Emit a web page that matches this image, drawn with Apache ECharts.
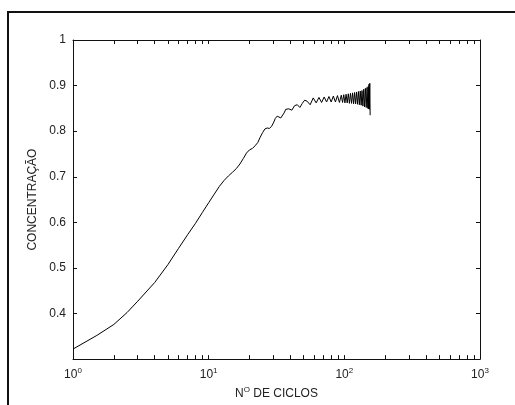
<!DOCTYPE html>
<html>
<head>
<meta charset="utf-8">
<script src="https://cdn.jsdelivr.net/npm/echarts@6/dist/echarts.min.js"></script>
<style>
  html, body { margin: 0; padding: 0; background: #fff; }
  #frame { position: absolute; left: 7px; top: 11px; width: 508px; height: 394px;
           border-left: 2px solid #111; border-top: 2px solid #111; box-sizing: border-box; }
  #chart { position: absolute; left: 0; top: 0; width: 515px; height: 405px; }
</style>
</head>
<body>
<div id="frame"></div>
<div id="chart"></div>
<script>
// número de ciclos e concentração
const cycles = [1, 1.5, 2, 2.5, 3, 4, 5, 6, 7, 8, 9, 10, 11, 12, 13, 14, 15, 16, 17, 18, 19, 20,
  21, 22, 23, 24, 25, 26, 27, 28, 29, 30, 31, 32, 33, 34, 35, 36, 37, 38, 39, 40, 41, 43, 44, 45, 47,
  49, 51, 53, 56, 59, 62, 65, 68, 71, 74, 77, 80, 83, 86, 89, 92, 95, 97, 99,
  101, 103, 105, 107, 109, 111, 113, 115, 117, 119, 121, 123, 125, 127, 129, 131, 133, 135,
  137, 139, 141, 143, 145, 147, 149, 150, 151, 152, 153, 154, 155];
const concentration = [0.322, 0.352, 0.376, 0.402, 0.427, 0.468, 0.507, 0.543, 0.573, 0.598, 0.622,
  0.643, 0.662, 0.679, 0.692, 0.702, 0.71, 0.718, 0.728, 0.74, 0.752, 0.759,
  0.762, 0.768, 0.775, 0.787, 0.797, 0.805, 0.807, 0.806, 0.81, 0.818, 0.828, 0.833, 0.832, 0.829,
  0.832, 0.84, 0.848, 0.851, 0.849, 0.845, 0.846, 0.856, 0.86, 0.858, 0.852,
  0.861, 0.868, 0.866, 0.858, 0.873, 0.862, 0.874, 0.863, 0.875, 0.864, 0.876, 0.864, 0.877,
  0.864, 0.878, 0.863, 0.879, 0.863, 0.88,
  0.862, 0.881, 0.862, 0.882, 0.861, 0.883, 0.861, 0.884, 0.86, 0.885, 0.86, 0.886, 0.859, 0.887,
  0.858, 0.888, 0.857, 0.889,
  0.855, 0.892, 0.853, 0.894, 0.852, 0.896, 0.85, 0.898, 0.849, 0.903, 0.848, 0.905, 0.835];
const xMajor = [1, 10, 100, 1000];
const xTicks = [1, 2, 3, 4, 5, 6, 7, 8, 9, 10, 20, 30, 40, 50, 60, 70, 80, 90, 100,
  200, 300, 400, 500, 600, 700, 800, 900, 1000];

const chart = echarts.init(document.getElementById('chart'));
const font = 'Liberation Sans, Arial, sans-serif';
const txt = '#222';
const lineStyle = { color: '#111', width: 1 };

const seriesData = cycles.map((c, i) => [c, concentration[i]]);

chart.setOption({
  backgroundColor: 'transparent',
  animation: false,
  grid: { left: 73, right: 35, top: 40, bottom: 45 },
  xAxis: [
    {
      type: 'log', logBase: 10, min: 1, max: 1000, position: 'bottom',
      name: 'N{sup|O} DE CICLOS', nameLocation: 'middle', nameGap: 24,
      nameTextStyle: {
        color: txt, fontFamily: font, fontSize: 12,
        rich: { sup: { fontSize: 8, verticalAlign: 'top', padding: [0, 0, 8, 0], fontFamily: font, color: txt } }
      },
      axisLine: { lineStyle: lineStyle },
      axisTick: { inside: true, length: 4, lineStyle: lineStyle, customValues: xTicks },
      axisLabel: {
        customValues: xMajor, margin: 8,
        color: txt, fontFamily: font, fontSize: 12,
        formatter: v => '10{sup|' + Math.round(Math.log10(v)) + '}',
        rich: { sup: { fontSize: 8, padding: [0, 0, 8, 0], fontFamily: font, color: txt } }
      },
      splitLine: { show: false }
    },
    {
      type: 'log', logBase: 10, min: 1, max: 1000, position: 'top',
      axisLine: { lineStyle: lineStyle },
      axisTick: { inside: true, length: 4, lineStyle: lineStyle, customValues: xTicks },
      axisLabel: { show: false },
      splitLine: { show: false }
    }
  ],
  yAxis: [
    {
      type: 'value', min: 0.3, max: 1, interval: 0.1, position: 'left',
      name: 'CONCENTRAÇÃO', nameLocation: 'middle', nameGap: 33,
      nameTextStyle: { color: txt, fontFamily: font, fontSize: 12 },
      axisLine: { show: true, lineStyle: lineStyle },
      axisTick: { inside: true, length: 4, lineStyle: lineStyle },
      axisLabel: {
        color: txt, fontFamily: font, fontSize: 12, margin: 7,
        formatter: v => v < 0.35 ? '' : String(+v.toFixed(1))
      },
      splitLine: { show: false }
    },
    {
      type: 'value', min: 0.3, max: 1, interval: 0.1, position: 'right',
      axisLine: { show: true, lineStyle: lineStyle },
      axisTick: { inside: true, length: 4, lineStyle: lineStyle },
      axisLabel: { show: false },
      splitLine: { show: false }
    }
  ],
  series: [
    {
      type: 'line',
      xAxisIndex: 0, yAxisIndex: 0,
      data: seriesData,
      showSymbol: false,
      lineStyle: { color: '#000', width: 1 },
      silent: true
    }
  ]
});
</script>
</body>
</html>
